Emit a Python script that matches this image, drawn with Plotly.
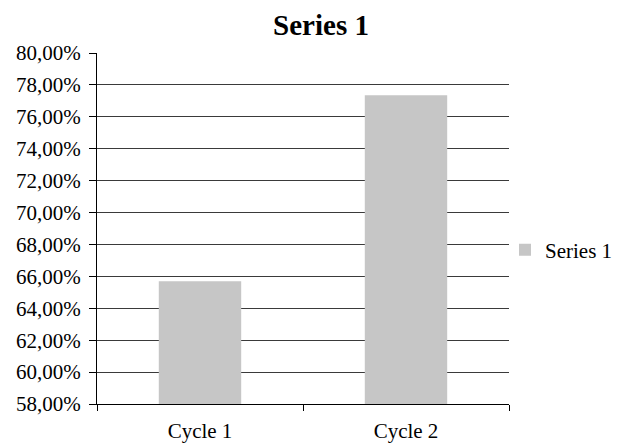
import plotly.graph_objects as go

categories = ["Cycle 1", "Cycle 2"]
values = [65.70, 77.35]
series_name = "Series 1"
y_ticks = [58, 60, 62, 64, 66, 68, 70, 72, 74, 76, 78, 80]
y_tick_labels = [f"{v:.2f}".replace(".", ",") + "%" for v in y_ticks]

FONT = "Liberation Serif"
W, H = 623, 447

fig = go.Figure()
fig.add_trace(go.Bar(
    x=categories,
    y=values,
    base=0,
    name=series_name,
    marker=dict(color="#c6c6c6", line=dict(width=0)),
    showlegend=True,
))

fig.update_layout(
    width=W,
    height=H,
    margin=dict(l=97, r=114, t=53, b=43, autoexpand=False),
    paper_bgcolor="white",
    plot_bgcolor="white",
    font=dict(family=FONT, size=21, color="#000000"),
    title=dict(
        text="<b>Series 1</b>",
        xref="container", x=321 / W, xanchor="center",
        yref="container", y=1 - 25 / H, yanchor="middle",
        font=dict(family=FONT, size=29, color="#000000"),
    ),
    bargap=0.6,
    showlegend=True,
    legend=dict(
        xref="container", x=505 / W, xanchor="left",
        yref="container", y=1 - 250 / H, yanchor="middle",
        font=dict(family=FONT, size=21),
        bgcolor="rgba(0,0,0,0)",
    ),
    xaxis=dict(
        type="category",
        showline=True, linecolor="#000000", linewidth=1.3,
        ticks="outside", ticklen=6, tickcolor="#000000", tickwidth=1.3,
        tickson="boundaries",
        showgrid=False,
        tickfont=dict(family=FONT, size=21),
        ticklabelstandoff=8,
        automargin=False,
    ),
    yaxis=dict(
        range=[58, 80],
        tickvals=y_ticks,
        ticktext=y_tick_labels,
        showline=True, linecolor="#000000", linewidth=1.3,
        ticks="outside", ticklen=7, tickcolor="#000000", tickwidth=1.3,
        showgrid=True, gridcolor="#3a3a3a", gridwidth=1.3,
        zeroline=False,
        tickfont=dict(family=FONT, size=21),
        ticklabelstandoff=4,
        automargin=False,
    ),
)

fig.write_html("out.html")
